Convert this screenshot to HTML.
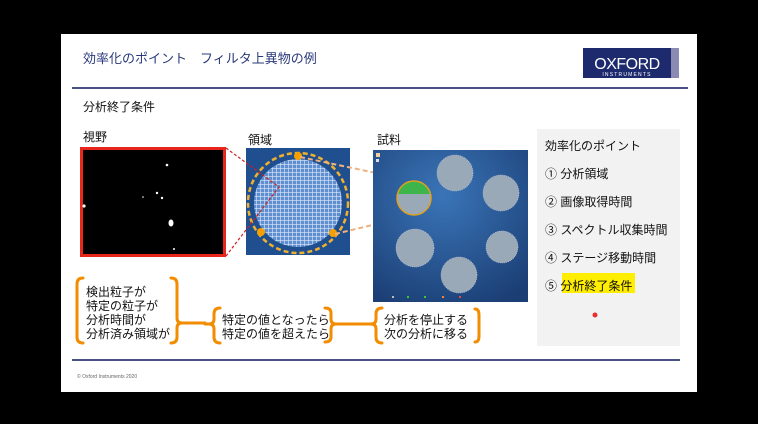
<!DOCTYPE html>
<html><head><meta charset="utf-8"><style>
body{margin:0;background:#000;width:758px;height:424px;overflow:hidden}
svg{display:block}
text{font-family:"Liberation Sans","Noto Sans CJK JP",sans-serif}
</style></head><body>
<svg width="758" height="424" viewBox="0 0 758 424">
<defs>
<radialGradient id="bg" cx="0.45" cy="0.3" r="0.8"><stop offset="0" stop-color="#3a75b8"/><stop offset="1" stop-color="#1b3e74"/></radialGradient>
<pattern id="grid" width="4" height="4" patternUnits="userSpaceOnUse"><rect width="4" height="4" fill="#5f8fd0"/><path d="M0 0H4M0 0V4" stroke="#dfe9f7" stroke-width="1.2"/></pattern>
</defs>
<rect x="61" y="34" width="636" height="358" fill="#fff"/>
<text x="83" y="63" font-size="13" fill="#2b3a7c">効率化のポイント　フィルタ上異物の例</text>
<rect x="583" y="48" width="88" height="30" fill="#1d2a6e"/>
<rect x="671" y="48" width="8" height="30" fill="#8a8ab5"/>
<text x="627" y="69" font-size="16" fill="#fff" text-anchor="middle" letter-spacing="-0.5">OXFORD</text>
<text x="627" y="76" font-size="5" fill="#fff" text-anchor="middle" letter-spacing="1.2">INSTRUMENTS</text>
<rect x="72" y="87" width="616" height="2" fill="#4a5084"/>
<text x="83" y="111" font-size="12" fill="#111">分析終了条件</text>
<text x="83" y="141" font-size="12" fill="#111">視野</text>
<text x="248" y="144" font-size="12" fill="#111">領域</text>
<text x="377" y="144" font-size="12" fill="#111">試料</text>
<rect x="81.5" y="148.5" width="143" height="107" fill="#000" stroke="#e8261c" stroke-width="3"/>
<g fill="#fff"><circle cx="167" cy="165" r="1.3"/><circle cx="157" cy="193" r="1.2"/><circle cx="162" cy="198" r="1.2"/><circle cx="84" cy="206" r="1.6"/><ellipse cx="171" cy="223" rx="2.5" ry="3.5"/><circle cx="174" cy="249" r="1"/><circle cx="143" cy="197" r="0.8"/></g>
<rect x="246" y="148" width="104" height="107" fill="#1f4f8e"/>
<circle cx="298" cy="203" r="44" fill="url(#grid)"/>
<circle cx="298" cy="203" r="50" fill="none" stroke="#f0b030" stroke-width="2.5" stroke-dasharray="5 3"/>
<circle cx="298" cy="156" r="4" fill="#f5a000"/><circle cx="261" cy="232" r="4" fill="#f5a000"/><circle cx="333" cy="233" r="4" fill="#f5a000"/>
<g stroke="#d02020" stroke-width="1.2" stroke-dasharray="3 2" fill="none"><path d="M226 148L279 187L226 256"/></g>
<g stroke="#f0b080" stroke-width="2" stroke-dasharray="5 3" fill="none"><path d="M300 157L414 181M335 234L414 215"/></g>
<rect x="373" y="150" width="155" height="152" fill="url(#bg)"/>
<g fill="#9aa9b8" stroke="#c7ccd4" stroke-width="0.6" stroke-dasharray="1 1">
<circle cx="455" cy="173" r="18"/><circle cx="501" cy="193" r="18"/><circle cx="415" cy="248" r="19"/><circle cx="502" cy="247" r="16"/><circle cx="459" cy="275" r="18"/></g>
<circle cx="414" cy="198" r="17" fill="#9aa9b8"/>
<path d="M397.5 194A17 17 0 0 1 430.5 194Z" fill="#3db54a"/>
<circle cx="414" cy="198" r="17" fill="none" stroke="#e0a020" stroke-width="1.5"/>
<rect x="376" y="153" width="4" height="4" fill="#f0d0a0"/><rect x="376" y="159" width="3" height="3" fill="#ddd"/>
<g><rect x="392" y="296" width="2" height="2" fill="#bbb"/><rect x="407" y="296" width="2" height="2" fill="#3c3"/><rect x="424" y="296" width="2" height="2" fill="#3c3"/><rect x="442" y="296" width="2" height="2" fill="#e84"/><rect x="459" y="296" width="2" height="2" fill="#e44"/></g>
<rect x="537" y="129" width="143" height="217" fill="#f2f2f2"/>
<rect x="562" y="273" width="73" height="20" fill="#ffee00"/>
<g font-size="12" fill="#111">
<text x="545" y="150">効率化のポイント</text>
<text x="545" y="178">① 分析領域</text>
<text x="545" y="206">② 画像取得時間</text>
<text x="545" y="234">③ スペクトル収集時間</text>
<text x="545" y="262">④ ステージ移動時間</text>
<text x="545" y="290">⑤ 分析終了条件</text>
</g>
<circle cx="595" cy="315" r="2.5" fill="#e83030"/>
<g fill="none" stroke="#f28c00" stroke-width="3" stroke-linecap="round">
<path d="M83 278Q77 278 77 284V337Q77 343 83 343"/>
<path d="M171 278Q177 278 177 284V318Q177 323 182 323H205"/>
<path d="M171 343Q177 343 177 337V328Q177 323 182 323"/>
<path d="M220 308Q214 308 214 314V319Q214 324 209 324Q214 324 214 329V337Q214 343 220 343"/>
<path d="M205 324H209"/>
<path d="M325 308Q331 308 331 313V319Q331 324 336 324H372"/><path d="M325 342Q331 342 331 337V329Q331 324 336 324"/>
<path d="M382 308Q376 308 376 314V319Q376 324 371 324Q376 324 376 329V337Q376 343 382 343"/>
<path d="M475 309Q479 309 479 315V336Q479 342 475 342"/>
</g>
<g font-size="12" fill="#111">
<text x="86" y="296">検出粒子が</text>
<text x="86" y="310">特定の粒子が</text>
<text x="86" y="324">分析時間が</text>
<text x="86" y="338">分析済み領域が</text>
<text x="222" y="324">特定の値となったら</text>
<text x="222" y="338">特定の値を超えたら</text>
<text x="384" y="324">分析を停止する</text>
<text x="384" y="338">次の分析に移る</text>
</g>
<rect x="72" y="359" width="608" height="2" fill="#4a5084"/>
<text x="77" y="378" font-size="5" fill="#666">© Oxford Instruments 2020</text>
</svg>
</body></html>
